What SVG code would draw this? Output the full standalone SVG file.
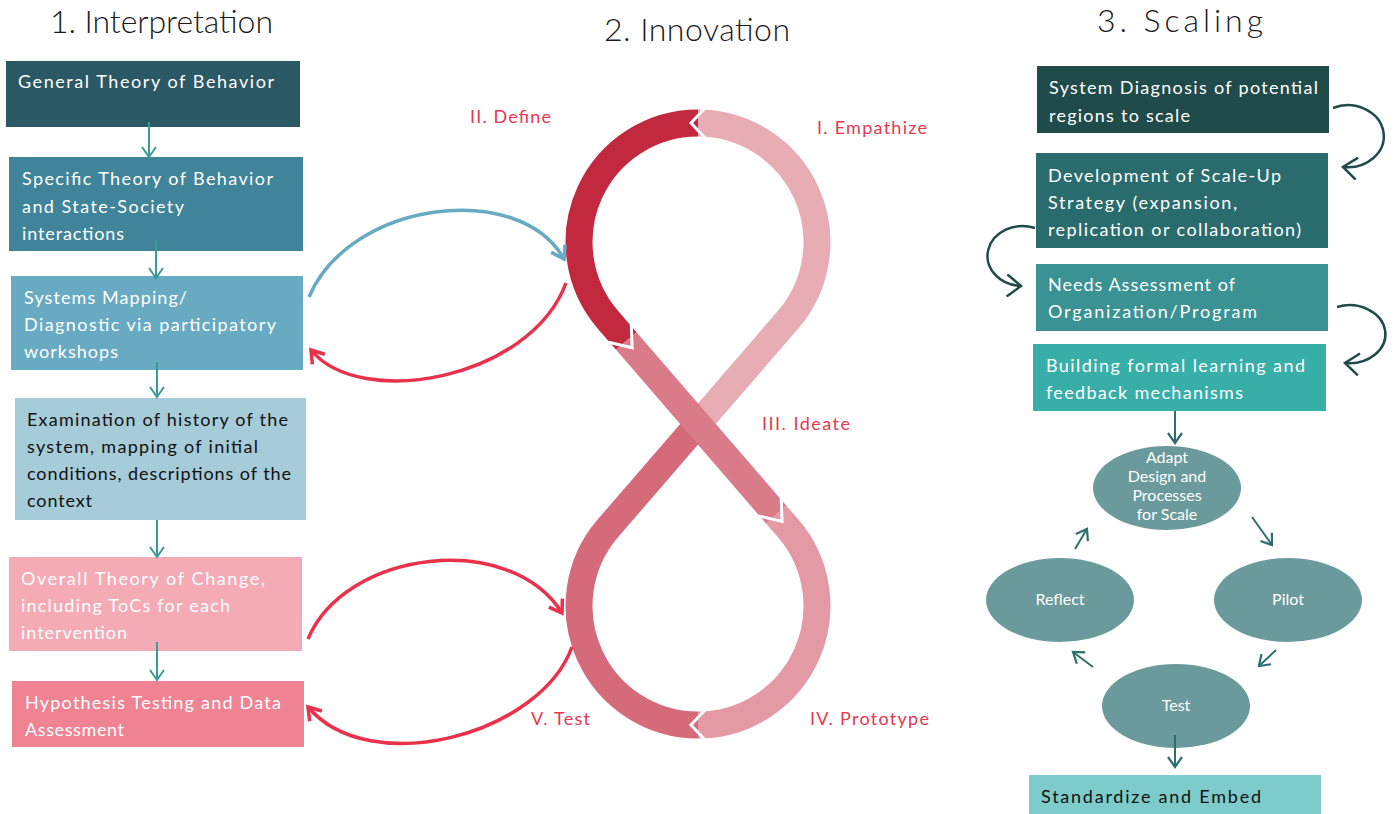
<svg xmlns="http://www.w3.org/2000/svg" width="1398" height="814" viewBox="0 0 1398 814">
<defs>
<style>
text{font-family:Lato,"Noto Sans","Liberation Sans",sans-serif}
.hd{font-size:32px;font-weight:300;fill:#1a1a1a}
.bt{font-size:18px;fill:#ffffff}
.bk{font-size:18px;fill:#111111}
.lbl{font-size:18px;fill:#e8384f}
.el{font-size:16px;fill:#ffffff;text-anchor:middle}
.band{fill:none;stroke-width:27;stroke-linecap:butt}
.chev{fill:none;stroke:#ffffff;stroke-width:3;stroke-linejoin:miter}
.tl{fill:none;stroke:#3a9a98;stroke-width:2}
.sl{fill:none;stroke:#2e6e6e;stroke-width:2}
.dk{fill:none;stroke:#1f4b4b;stroke-width:2.5}
.blue{fill:none;stroke:#67aac1;stroke-width:3.5}
.red{fill:none;stroke:#e8324c;stroke-width:3.5}
</style>
<marker id="mT" viewBox="0 0 16 16" refX="13" refY="8" markerWidth="16" markerHeight="16" markerUnits="userSpaceOnUse" orient="auto"><path d="M3,1 L13,8 L3,15" fill="none" stroke="#3a9a98" stroke-width="2"/></marker>
<marker id="mS" viewBox="0 0 16 16" refX="13" refY="8" markerWidth="16" markerHeight="16" markerUnits="userSpaceOnUse" orient="auto"><path d="M3,1 L13,8 L3,15" fill="none" stroke="#2e6e6e" stroke-width="2.2"/></marker>
<marker id="mD" viewBox="0 0 24 24" refX="20" refY="12" markerWidth="24" markerHeight="24" markerUnits="userSpaceOnUse" orient="auto"><path d="M6,1 L20,12 L6,23" fill="none" stroke="#1f4b4b" stroke-width="2.5"/></marker>
<marker id="mB" viewBox="0 0 20 20" refX="17" refY="10" markerWidth="20" markerHeight="20" markerUnits="userSpaceOnUse" orient="auto"><path d="M5,2 L17,10 L5,18" fill="none" stroke="#67aac1" stroke-width="3.5"/></marker>
<marker id="mR" viewBox="0 0 20 20" refX="17" refY="10" markerWidth="20" markerHeight="20" markerUnits="userSpaceOnUse" orient="auto"><path d="M5,2 L17,10 L5,18" fill="none" stroke="#e8324c" stroke-width="3.5"/></marker>
</defs>
<rect width="1398" height="814" fill="#ffffff"/>

<!-- headers -->
<text class="hd" x="50" y="33" textLength="223">1. Interpretation</text>
<text class="hd" x="604" y="41" textLength="186">2. Innovation</text>
<text class="hd" x="1097" y="32" textLength="166">3. Scaling</text>

<!-- Interpretation column -->
<g id="n-general">
<rect x="6" y="61" width="294" height="66" fill="#2b5865"/>
<text class="bt" x="18" y="88" textLength="256">General Theory of Behavior</text>
</g>
<g id="n-specific">
<rect x="9" y="157" width="294" height="94" fill="#40849a"/>
<text class="bt" x="22" y="185" textLength="251">Specific Theory of Behavior</text>
<text class="bt" x="22" y="213" textLength="162">and State-Society</text>
<text class="bt" x="22" y="240" textLength="102">interactions</text>
</g>
<g id="n-systems">
<rect x="11" y="276" width="292" height="94" fill="#68aac1"/>
<text class="bt" x="24" y="304" textLength="163">Systems Mapping/</text>
<text class="bt" x="24" y="331" textLength="252">Diagnostic via participatory</text>
<text class="bt" x="24" y="358" textLength="94">workshops</text>
</g>
<g id="n-exam">
<rect x="15" y="398" width="291" height="122" fill="#a6cbd9"/>
<text class="bk" x="27" y="426" textLength="261">Examination of history of the</text>
<text class="bk" x="27" y="453" textLength="231">system, mapping of initial</text>
<text class="bk" x="27" y="480" textLength="264">conditions, descriptions of the</text>
<text class="bk" x="27" y="507" textLength="65">context</text>
</g>
<g id="n-overall">
<rect x="9" y="557" width="293" height="94" fill="#f5abb6"/>
<text class="bt" x="21" y="585" textLength="244">Overall Theory of Change,</text>
<text class="bt" x="21" y="612" textLength="209">including ToCs for each</text>
<text class="bt" x="21" y="639" textLength="106">intervention</text>
</g>
<g id="n-hypo">
<rect x="12" y="681" width="292" height="66" fill="#f08392"/>
<text class="bt" x="25" y="709" textLength="256">Hypothesis Testing and Data</text>
<text class="bt" x="25" y="736" textLength="99">Assessment</text>
</g>

<!-- Innovation figure eight -->
<g id="n-eight">
<path class="band" stroke="#e8adb4" d="M698,424 L788,319.8 A119,119 0 0 0 698,123"/>
<path class="band" stroke="#d46a7a" d="M698,725 A119,119 0 0 1 608,528.2 L698,424"/>
<path class="band" stroke="#c3293e" d="M698,123 A119,119 0 0 0 608,319.8 L626.3,341"/>
<path class="band" stroke="#e39aa4" d="M776.2,514.6 L788,528.2 A119,119 0 0 1 698,725"/>
<path class="band" stroke="#d97b88" d="M626.3,341 L776.2,514.6"/>
<polyline class="chev" points="706,107 691,123 706,139"/>
<polyline class="chev" points="706,709 691,725 706,741"/>
<polyline class="chev" points="608.6,342.3 632.2,347.8 631.2,322.7"/>
<polyline class="chev" points="758.5,516 782.1,521.4 781.1,496.3"/>
</g>
<g id="labels-eight">
<text class="lbl" x="470" y="123" textLength="81">II. Define</text>
<text class="lbl" x="817" y="134" textLength="110">I. Empathize</text>
<text class="lbl" x="762" y="430" textLength="88">III. Ideate</text>
<text class="lbl" x="810" y="725" textLength="119">IV. Prototype</text>
<text class="lbl" x="531" y="725" textLength="59">V. Test</text>
</g>

<!-- Scaling column -->
<g id="n-diag">
<rect x="1037" y="66" width="292" height="67" fill="#1f4b4b"/>
<text class="bt" x="1049" y="94" textLength="269">System Diagnosis of potential</text>
<text class="bt" x="1049" y="122" textLength="141">regions to scale</text>
</g>
<g id="n-dev">
<rect x="1036" y="153" width="292" height="95" fill="#2a6c6e"/>
<text class="bt" x="1048" y="182" textLength="233">Development of Scale-Up</text>
<text class="bt" x="1048" y="209" textLength="189">Strategy (expansion,</text>
<text class="bt" x="1048" y="236" textLength="253">replication or collaboration)</text>
</g>
<g id="n-needs">
<rect x="1036" y="264" width="292" height="67" fill="#3a9293"/>
<text class="bt" x="1048" y="291" textLength="187">Needs Assessment of</text>
<text class="bt" x="1048" y="318" textLength="209">Organization/Program</text>
</g>
<g id="n-build">
<rect x="1033" y="344" width="293" height="67" fill="#38aea9"/>
<text class="bt" x="1046" y="372" textLength="259">Building formal learning and</text>
<text class="bt" x="1046" y="399" textLength="197">feedback mechanisms</text>
</g>
<g id="n-adapt">
<ellipse cx="1167" cy="488" rx="74" ry="42" fill="#6a9a9b"/>
<text class="el" x="1167" y="463">Adapt</text>
<text class="el" x="1167" y="482">Design and</text>
<text class="el" x="1167" y="501">Processes</text>
<text class="el" x="1167" y="520">for Scale</text>
</g>
<g id="n-reflect">
<ellipse cx="1060" cy="600" rx="74" ry="42" fill="#6a9a9b"/>
<text class="el" x="1060" y="605">Reflect</text>
</g>
<g id="n-pilot">
<ellipse cx="1288" cy="600" rx="74" ry="42" fill="#6a9a9b"/>
<text class="el" x="1288" y="605">Pilot</text>
</g>
<g id="n-test">
<ellipse cx="1176" cy="706" rx="74" ry="42" fill="#6a9a9b"/>
<text class="el" x="1176" y="711">Test</text>
</g>
<g id="n-standard">
<rect x="1029" y="775" width="292" height="39" fill="#7ecbcc"/>
<text class="bk" x="1041" y="803" textLength="220">Standardize and Embed</text>
</g>

<!-- connectors -->
<g id="connectors">
<path class="tl" marker-end="url(#mT)" d="M149,122 L149,157"/>
<path class="tl" marker-end="url(#mT)" d="M156,240 L156,278"/>
<path class="tl" marker-end="url(#mT)" d="M157,362 L157,397"/>
<path class="tl" marker-end="url(#mT)" d="M157,520 L157,557"/>
<path class="tl" marker-end="url(#mT)" d="M157,642 L157,680"/>

<path class="blue" marker-end="url(#mB)" d="M309,297 C350,200 520,180 564,259"/>
<path class="red" marker-end="url(#mR)" d="M566,283 C530,380 360,410 311,350"/>
<path class="red" marker-end="url(#mR)" d="M308,639 C345,550 510,530 562,613"/>
<path class="red" marker-end="url(#mR)" d="M572,647 C540,735 370,780 308,707"/>

<path class="dk" marker-end="url(#mD)" d="M1333,108 A36,31 0 1 1 1343,167"/>
<path class="dk" marker-end="url(#mD)" d="M1035,228 A35,30 0 1 0 1021,286"/>
<path class="dk" marker-end="url(#mD)" d="M1337,307 A36,29 0 1 1 1345,363"/>

<path class="sl" marker-end="url(#mS)" d="M1175,411 L1175,443"/>
<path class="sl" marker-end="url(#mS)" d="M1252,517 L1272,545"/>
<path class="sl" marker-end="url(#mS)" d="M1276,650 L1259,666"/>
<path class="sl" marker-end="url(#mS)" d="M1093,667 L1073,652"/>
<path class="sl" marker-end="url(#mS)" d="M1075,549 L1087,529"/>
<path class="sl" marker-end="url(#mS)" d="M1175,735 L1175,767"/>
</g>
</svg>
